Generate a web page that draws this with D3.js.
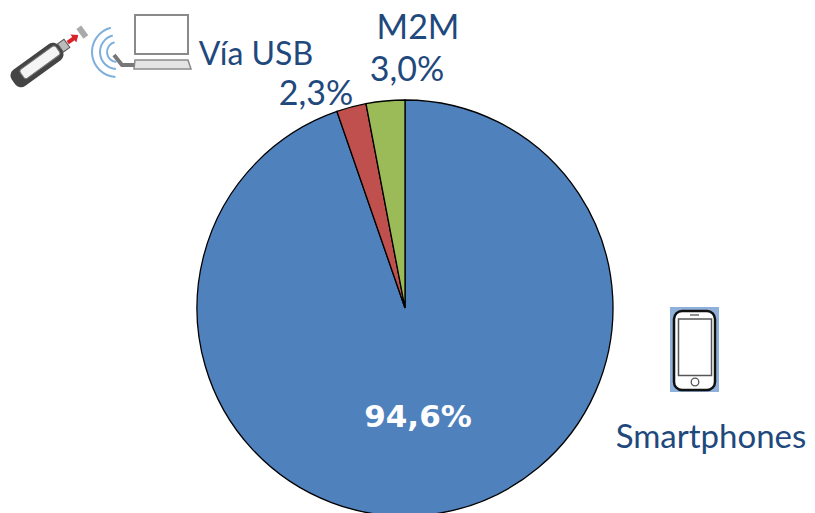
<!DOCTYPE html>
<html><head><meta charset="utf-8">
<script src="https://cdn.jsdelivr.net/npm/d3@7/dist/d3.min.js"></script>
<style>html,body{margin:0;background:#fff;overflow:hidden}text{font-family:Lato,sans-serif}</style>
</head><body><svg id="c" width="815" height="513"></svg>
<script>
const categories = ["Smartphones", "Vía USB", "M2M"];
const values = [94.6, 2.3, 3.0];
const valueLabels = ["94,6%", "2,3%", "3,0%"];
const colors = ["#4F81BD", "#C0504D", "#9BBB59"];
const svg = d3.select("#c");
const textColor = "#1F497D";
const g = svg.append("g").attr("transform", "translate(405,308)");
const arc = d3.arc().innerRadius(0).outerRadius(208);
const pie = d3.pie().sort(null).value(d => d.v);
const rows = categories.map((c, i) => ({c, v: values[i], col: colors[i]}));
g.selectAll("path").data(pie(rows)).join("path")
  .attr("d", arc).attr("fill", d => d.data.col)
  .attr("stroke", "#000").attr("stroke-width", 1.3);
const t = (x, y, s, size, extra) => {
  const e = svg.append("text").attr("x", x).attr("y", y).attr("text-anchor", "middle")
    .attr("font-size", size).attr("fill", textColor).text(s);
  if (extra) extra(e);
  return e;
};
t(418, 39, categories[2], 34);
t(407, 81, valueLabels[2], 34);
t(256, 65, categories[1], 32);
t(316, 105, valueLabels[1], 34);
t(711, 448, categories[0], 33);
t(418, 427, valueLabels[0], 31, e => e.attr("fill", "#fff").attr("font-weight", "bold").style("font-family", "'DejaVu Sans'"));

// Phone icon
const ph = svg.append("g");
ph.append("rect").attr("x", 670).attr("y", 307).attr("width", 49).attr("height", 85).attr("fill", "#8FB0D8");
ph.append("rect").attr("x", 674).attr("y", 311).attr("width", 41).attr("height", 79).attr("rx", 8).attr("fill", "#fff").attr("stroke", "#111").attr("stroke-width", 2.5);
ph.append("rect").attr("x", 678.5).attr("y", 319).attr("width", 33).attr("height", 56.5).attr("fill", "#fff").attr("stroke", "#555").attr("stroke-width", 1.5);
ph.append("line").attr("x1", 690).attr("x2", 699).attr("y1", 315).attr("y2", 315).attr("stroke", "#555").attr("stroke-width", 1.3);
ph.append("circle").attr("cx", 695).attr("cy", 382).attr("r", 3.8).attr("fill", "#fff").attr("stroke", "#555").attr("stroke-width", 1.3);

// USB + wifi + laptop icon
const ic = svg.append("g");
ic.append("rect").attr("x", 135).attr("y", 15).attr("width", 53).attr("height", 39).attr("fill", "#fff").attr("stroke", "#8a8a8a").attr("stroke-width", 2);
ic.append("path").attr("d", "M135 60H188L191 69H134Z").attr("fill", "#e4e4e4").attr("stroke", "#8a8a8a").attr("stroke-width", 1.5);
ic.append("path").attr("d", "M114 55L122 65L134 65").attr("fill", "none").attr("stroke", "#777").attr("stroke-width", 4);
[[117, 20], [117, 13], [117, 7]].forEach(([x, r]) => {});
[9, 16, 24].forEach(r => {
  ic.append("path").attr("d", d3.arc().innerRadius(r).outerRadius(r + 2).startAngle(-Math.PI * 0.98).endAngle(-Math.PI * 0.08)())
    .attr("transform", "translate(117,52)").attr("fill", "#7FB0DC");
});
const usb = svg.append("g").attr("transform", "translate(37,65) rotate(-36)");
usb.append("rect").attr("x", -29).attr("y", -10).attr("width", 58).attr("height", 20).attr("rx", 7).attr("fill", "#444");
usb.append("rect").attr("x", -18).attr("y", -6).attr("width", 44).attr("height", 11).attr("rx", 3).attr("fill", "#f4f4f4").attr("stroke", "#777");
usb.append("rect").attr("x", 29).attr("y", -5).attr("width", 8).attr("height", 10).attr("fill", "#bbb").attr("stroke", "#555");
usb.append("path").attr("d", "M38 -2H45V-5L51 0L45 5V2H38Z").attr("fill", "#d8232a");
usb.append("rect").attr("x", 53).attr("y", -6).attr("width", 6).attr("height", 12).attr("fill", "#aaa");
</script></body></html>
